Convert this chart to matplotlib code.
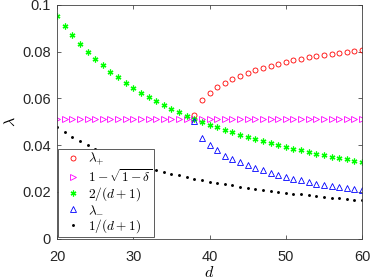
import matplotlib
matplotlib.use("Agg")
import matplotlib.pyplot as plt

plt.rcParams['mathtext.fontset'] = 'cm'
plt.rcParams['font.family'] = ['Liberation Sans', 'DejaVu Sans']

d_all = list(range(20, 61))
d_lam = list(range(38, 61))

lam_plus = [0.0528, 0.0592, 0.0625, 0.0649, 0.0667, 0.0682, 0.0698, 0.0710,
            0.0721, 0.0731, 0.0740, 0.0748, 0.0755, 0.0763, 0.0770, 0.0776,
            0.0781, 0.0787, 0.0791, 0.0795, 0.0800, 0.0803, 0.0807]
lam_minus = [0.0503, 0.0432, 0.0399, 0.0378, 0.0355, 0.0340, 0.0326, 0.0313,
             0.0302, 0.0292, 0.0282, 0.0272, 0.0263, 0.0256, 0.0249, 0.0240,
             0.0235, 0.0229, 0.0223, 0.0219, 0.0216, 0.0213, 0.0209]
sqrt_delta = [0.0513] * 41
two_over = [0.0952, 0.0909, 0.0870, 0.0833, 0.0800, 0.0769, 0.0741, 0.0714,
            0.0690, 0.0667, 0.0645, 0.0625, 0.0606, 0.0588, 0.0571, 0.0556,
            0.0541, 0.0526, 0.0513, 0.0500, 0.0488, 0.0476, 0.0465, 0.0455,
            0.0444, 0.0435, 0.0426, 0.0417, 0.0408, 0.0400, 0.0392, 0.0385,
            0.0377, 0.0370, 0.0364, 0.0357, 0.0351, 0.0345, 0.0339, 0.0333,
            0.0328]
one_over = [0.0476, 0.0455, 0.0435, 0.0417, 0.0400, 0.0385, 0.0370, 0.0357,
            0.0345, 0.0333, 0.0323, 0.0312, 0.0303, 0.0294, 0.0286, 0.0278,
            0.0270, 0.0263, 0.0256, 0.0250, 0.0244, 0.0238, 0.0233, 0.0227,
            0.0222, 0.0217, 0.0213, 0.0208, 0.0204, 0.0200, 0.0196, 0.0192,
            0.0189, 0.0185, 0.0182, 0.0179, 0.0175, 0.0172, 0.0169, 0.0167,
            0.0164]

labels = [r'$\lambda_{+}$', r'$1-\sqrt{1-\delta}$', r'$2/(d+1)$',
          r'$\lambda_{-}$', r'$1/(d+1)$']

fig = plt.figure(figsize=(3.71, 2.79), dpi=100)
ax = fig.add_axes([57/371, 1-238.5/279, 305/371, 233.5/279])

ax.plot(d_lam, lam_plus, linestyle='none', marker='o', ms=3.6, mfc='none',
        mec='#ff0000', mew=0.6, label=labels[0])
ax.plot(d_all, sqrt_delta, linestyle='none', marker='>', ms=3.8, mfc='none',
        mec='#ff00ff', mew=0.6, label=labels[1])
ax.plot(d_all, two_over, linestyle='none', marker=(6, 2, 0), ms=4.2,
        mec='#00ff00', mfc='#00ff00', mew=0.9, label=labels[2])
ax.plot(d_lam, lam_minus, linestyle='none', marker='^', ms=3.8, mfc='none',
        mec='#0000ff', mew=0.6, label=labels[3])
ax.plot(d_all, one_over, linestyle='none', marker='o', ms=2.1, mfc='k',
        mec='k', mew=0, label=labels[4])

ax.set_xlim(20, 60)
ax.set_ylim(0, 0.1)
ax.set_xticks([20, 30, 40, 50, 60])
ax.set_yticks([0, 0.02, 0.04, 0.06, 0.08, 0.1])
ax.set_yticklabels(['0', '0.02', '0.04', '0.06', '0.08', '0.1'])
ax.tick_params(direction='in', length=3, width=0.5, top=True, right=True,
               labelsize=10.5, colors='#262626')
ax.tick_params(axis='x', pad=8)
ax.tick_params(axis='y', pad=4.5)
for s in ax.spines.values():
    s.set_linewidth(0.6)
    s.set_color('#404040')

ax.set_xlabel(r'$d$', fontsize=11.5, labelpad=1)
ax.set_ylabel(r'$\lambda$', fontsize=11.5, labelpad=3)

leg = ax.legend(loc='lower left', bbox_to_anchor=(0.004, 0.007),
                borderaxespad=0, fontsize=9.6, labelspacing=0.05,
                handlelength=1.9, handletextpad=0.15, borderpad=0.15,
                fancybox=False, framealpha=1, edgecolor='#404040')
leg.get_frame().set_linewidth(0.6)

fig.savefig('out.png', dpi=100)
